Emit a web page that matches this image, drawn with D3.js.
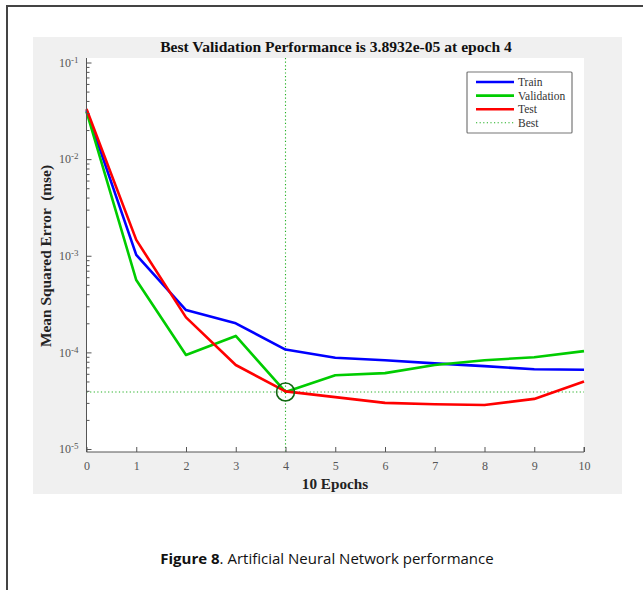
<!DOCTYPE html>
<html>
<head>
<meta charset="utf-8">
<script src="https://cdn.jsdelivr.net/npm/d3@7"></script>
<style>
  body { margin: 0; background: #fff; }
  svg { display: block; }
</style>
</head>
<body>
<svg id="chart" width="643" height="590"></svg>
<script>
// Data
const epochs = [0, 1, 2, 3, 4, 5, 6, 7, 8, 9, 10];
const trainPerf = [0.032, 1.02e-3, 2.74e-4, 2.0e-4, 1.07e-4, 8.8e-5, 8.3e-5, 7.7e-5, 7.2e-5, 6.7e-5, 6.6e-5];
const valPerf = [0.031, 5.6e-4, 9.4e-5, 1.48e-4, 3.8932e-5, 5.8e-5, 6.1e-5, 7.4e-5, 8.3e-5, 8.9e-5, 1.03e-4];
const testPerf = [0.033, 1.46e-3, 2.3e-4, 7.4e-5, 3.95e-5, 3.44e-5, 3.0e-5, 2.9e-5, 2.85e-5, 3.3e-5, 5.0e-5];
const bestEpoch = 4;
const bestPerf = 3.8932e-5;
const yMajor = [1e-1, 1e-2, 1e-3, 1e-4, 1e-5];
const yExp = ["-1", "-2", "-3", "-4", "-5"];
const legendNames = ["Train", "Validation", "Test", "Best"];

const svg = d3.select("#chart");
const serif = "'Liberation Serif', 'Times New Roman', serif";

// frame of the page figure
svg.append("path")
    .attr("d", "M7,590 V6 H643")
    .attr("fill", "none")
    .attr("stroke", "#444")
    .attr("stroke-width", 2);

// gray figure background
svg.append("rect")
    .attr("x", 33).attr("y", 37)
    .attr("width", 589).attr("height", 457)
    .attr("fill", "#f0f0f0");

const plot = { left: 86.5, right: 584, top: 58, bottom: 452 };

// white axes area
svg.append("rect")
    .attr("x", plot.left).attr("y", plot.top)
    .attr("width", plot.right - plot.left).attr("height", plot.bottom - plot.top)
    .attr("fill", "#fff");

// Scales
const x = d3.scaleLinear().domain([0, 10]).range([plot.left, plot.right]);
// 10^-1 at y=62.5, 10^-5 at y=449
const y = d3.scaleLog().domain([1e-1, 1e-5]).range([62.5, 449]);

// minor ticks
const minor = [];
yMajor.slice(0, 4).forEach(m => {
    for (let k = 2; k <= 9; k++) minor.push(m / 10 * k);
});

const axisColor = "#555";
const bestColor = "#22b022";

// Best lines (dotted)
const best = svg.append("g");
best.append("line")
    .attr("x1", x(bestEpoch)).attr("x2", x(bestEpoch))
    .attr("y1", plot.top).attr("y2", plot.bottom)
    .attr("stroke", bestColor).attr("stroke-width", 1.1)
    .attr("stroke-dasharray", "1.2,2.4");
best.append("line")
    .attr("x1", plot.left).attr("x2", plot.right)
    .attr("y1", y(bestPerf)).attr("y2", y(bestPerf))
    .attr("stroke", bestColor).attr("stroke-width", 1.1)
    .attr("stroke-dasharray", "1.2,2.4");

// Lines
const line = d3.line()
    .x((d, i) => x(epochs[i]))
    .y(d => y(d));

const series = [
    { name: "Train", values: trainPerf, color: "#0000ff" },
    { name: "Validation", values: valPerf, color: "#00cc00" },
    { name: "Test", values: testPerf, color: "#ff0000" }
];

svg.selectAll(".series")
    .data(series)
    .enter().append("path")
    .attr("class", "series")
    .attr("d", d => line(d.values))
    .attr("fill", "none")
    .attr("stroke", d => d.color)
    .attr("stroke-width", 2.6)
    .attr("stroke-linejoin", "round");

// Best circle
svg.append("circle")
    .attr("cx", x(bestEpoch)).attr("cy", y(bestPerf))
    .attr("r", 9)
    .attr("fill", "none")
    .attr("stroke", "#116611")
    .attr("stroke-width", 1.6);

// Y axis: minor ticks
svg.append("g")
    .attr("transform", `translate(${plot.left},0)`)
    .call(d3.axisLeft(y).tickValues(minor).tickSize(-3).tickFormat(""))
    .call(g => g.select(".domain").remove())
    .call(g => g.selectAll("line").attr("stroke", axisColor));

// Y axis: major ticks + labels
const yAxisG = svg.append("g")
    .attr("transform", `translate(${plot.left},0)`)
    .call(d3.axisLeft(y).tickValues(yMajor).tickSize(-5).tickPadding(8).tickFormat(""));
yAxisG.select(".domain")
    .attr("d", `M0,${plot.top}V${plot.bottom}`)
    .attr("stroke", axisColor);
yAxisG.selectAll("line").attr("stroke", axisColor);
yAxisG.selectAll(".tick text")
    .attr("font-family", serif)
    .attr("font-size", 12)
    .attr("fill", "#555")
    .each(function (d, i) {
        const t = d3.select(this);
        t.append("tspan").text("10");
        t.append("tspan").attr("dy", "-0.45em").attr("font-size", 9).text(yExp[i]);
    });

// X axis
const xAxisG = svg.append("g")
    .attr("transform", `translate(0,${plot.bottom})`)
    .call(d3.axisBottom(x).tickValues(epochs).tickSize(-5).tickPadding(9).tickFormat(d3.format("d")));
xAxisG.select(".domain")
    .attr("d", `M${plot.left},${-5}V0H${plot.right}V-5`)
    .attr("stroke", axisColor);
xAxisG.selectAll("line").attr("stroke", axisColor);
xAxisG.selectAll("text")
    .attr("font-family", serif)
    .attr("font-size", 12)
    .attr("fill", "#555");

// Title and axis labels
svg.append("text")
    .attr("x", 336).attr("y", 52)
    .attr("text-anchor", "middle")
    .attr("font-family", serif)
    .attr("font-weight", "bold")
    .attr("font-size", 15.6)
    .attr("fill", "#111")
    .text("Best Validation Performance is 3.8932e-05 at epoch 4");

svg.append("text")
    .attr("x", 335).attr("y", 489)
    .attr("text-anchor", "middle")
    .attr("font-family", serif)
    .attr("font-weight", "bold")
    .attr("font-size", 15.2)
    .attr("fill", "#222")
    .text("10 Epochs");

svg.append("text")
    .attr("transform", "translate(51,256) rotate(-90)")
    .attr("text-anchor", "middle")
    .attr("font-family", serif)
    .attr("font-weight", "bold")
    .attr("font-size", 15.4)
    .attr("fill", "#222")
    .attr("xml:space", "preserve")
    .text("Mean Squared Error  (mse)");

// Legend
const legend = svg.append("g").attr("transform", "translate(467,72)");
legend.append("rect")
    .attr("width", 105).attr("height", 61)
    .attr("fill", "#fff")
    .attr("stroke", "#777")
    .attr("stroke-width", 1.2)
    .attr("rx", 1);

const legendColors = ["#0000ff", "#00cc00", "#ff0000", bestColor];
const rows = legend.selectAll(".row")
    .data(legendNames)
    .enter().append("g")
    .attr("transform", (d, i) => `translate(0,${10 + i * 13.6})`);
rows.append("line")
    .attr("x1", 9).attr("x2", 47)
    .attr("stroke", (d, i) => legendColors[i])
    .attr("stroke-width", (d, i) => i < 3 ? 2.6 : 1.1)
    .attr("stroke-dasharray", (d, i) => i < 3 ? null : "1.2,2.4");
rows.append("text")
    .attr("x", 51).attr("y", 4)
    .attr("font-family", serif)
    .attr("font-size", 11.5)
    .attr("fill", "#333")
    .text(d => d);

// Caption
const cap = svg.append("text")
    .attr("x", 327).attr("y", 564)
    .attr("text-anchor", "middle")
    .attr("font-family", "'Open Sans', 'Noto Sans', sans-serif")
    .attr("font-size", 15)
    .attr("fill", "#111");
cap.append("tspan").attr("font-weight", "bold").text("Figure 8");
cap.append("tspan").text(". Artificial Neural Network performance");
</script>
</body>
</html>
